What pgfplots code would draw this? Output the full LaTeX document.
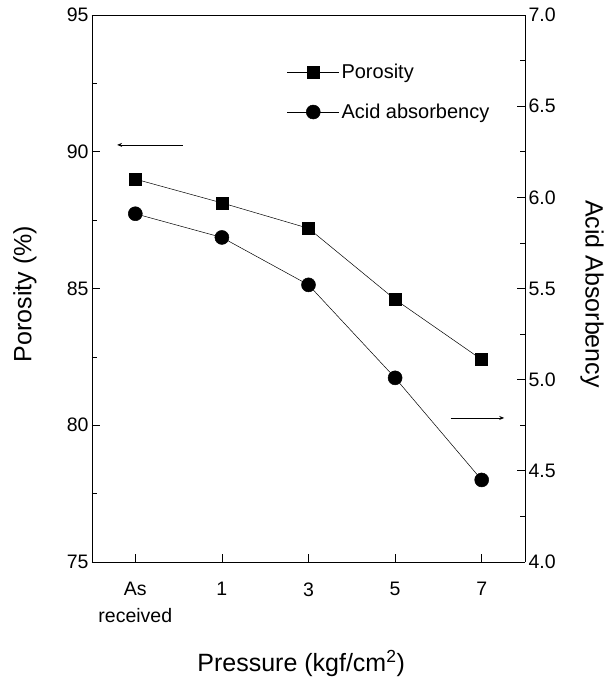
\documentclass[border=0pt]{standalone}
\usepackage{pgfplots}
\pgfplotsset{compat=1.18}
\usepackage{fontspec}
\setmainfont{Liberation Sans}
\usetikzlibrary{arrows.meta}
\begin{document}
\begin{tikzpicture}
\pgfplotsset{
  base/.style={
    scale only axis, width=433pt, height=547pt,
    xmin=-0.5, xmax=4.5,
    tick align=inside,
    /pgf/number format/assume math mode=true,
    tick label style={font=\fontsize{19.5}{23}\selectfont},
    label style={font=\fontsize{25}{30}\selectfont},
    major tick length=8pt, minor tick length=5pt,
    every tick/.style={black, line width=0.7pt},
    axis line style={line width=0.9pt},
  }
}
\begin{axis}[base,
  axis y line*=left, axis x line*=box,
  ymin=75, ymax=95, ytick={75,80,85,90,95},
  minor y tick num=1,
  xtick={0,1,2,3,4},
  xticklabels={{As\\received},1,3,5,7},
  xticklabel style={align=center, yshift=-17pt},
  x tick label style={font=\fontsize{19.5}{27}\selectfont},
  xtick pos=bottom,
  xlabel={Pressure (kgf/cm\textsuperscript{2})},
  xlabel style={at={(axis description cs:0.483,-0.185)}, anchor=center},
  ylabel={Porosity (\%)},
  ylabel style={at={(axis description cs:-0.155,0.49)}, anchor=center},
]
\addplot[black, line width=0.5pt, mark=square*, mark size=6pt] coordinates {
(0,89.0) (1,88.13) (2,87.2) (3,84.6) (4,82.4)};
\draw[-{Stealth[length=5pt,width=4pt]}, line width=0.8pt] (axis cs:0.55,90.25) -- (axis cs:-0.21,90.25);
\end{axis}
\begin{axis}[base,
  axis y line*=right, axis x line=none,
  ymin=4.0, ymax=7.0, ytick={4.0,4.5,5.0,5.5,6.0,6.5,7.0},
  minor y tick num=1,
  yticklabel style={/pgf/number format/.cd, fixed, fixed zerofill, precision=1},
  ylabel={Acid Absorbency},
  ylabel style={at={(axis description cs:1.155,0.49)}, anchor=center, rotate=180},
  legend style={draw=none, fill=none, at={(0.443,0.918)}, anchor=north west,
    font=\fontsize{20}{24}\selectfont, row sep=20pt},
  legend cell align=left,
  legend image code/.code={\draw[mark repeat=2,mark phase=2,#1] plot coordinates {(0pt,0pt) (26pt,0pt) (52pt,0pt)};},
]
\addlegendimage{black, line width=0.5pt, mark=square*, mark size=6pt}
\addlegendentry{Porosity}
\addplot[black, line width=0.5pt, mark=*, mark size=7pt] coordinates {
(0,5.91) (1,5.78) (2,5.52) (3,5.01) (4,4.45)};
\addlegendentry{Acid absorbency}
\draw[-{Stealth[length=5pt,width=4pt]}, line width=0.8pt] (axis cs:3.64,4.79) -- (axis cs:4.26,4.79);
\end{axis}
\pgfresetboundingbox
\path (current axis.south west) ++(-92pt,-115pt) rectangle ([shift={(82pt,15pt)}]current axis.north east);
\end{tikzpicture}
\end{document}
